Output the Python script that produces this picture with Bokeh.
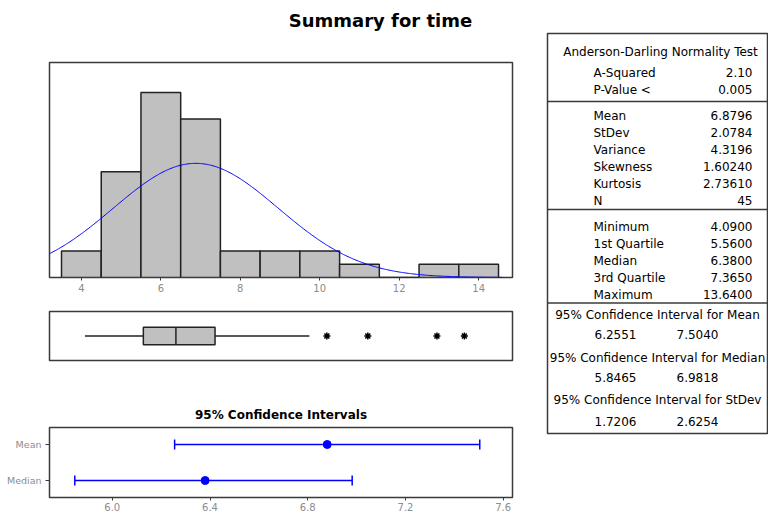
import numpy as np
from bokeh.plotting import figure
from bokeh.layouts import column, row
from bokeh.models import Range1d, FixedTicker, Whisker, TeeHead, ColumnDataSource, PrintfTickFormatter
from bokeh.core.properties import value
from bokeh.embed import file_html
from bokeh.resources import INLINE

# ---------------- data ----------------
title_text = "Summary for time"
bin_centers = [4, 5, 6, 7, 8, 9, 10, 11, 12, 13, 14]
bin_counts = [2, 8, 14, 12, 2, 2, 2, 1, 0, 1, 1]
bin_width = 1.0
hist_ticks = [4, 6, 8, 10, 12, 14]

n_obs = 45
mean = 6.8796
stdev = 2.0784
variance = 4.3196
skewness = 1.60240
kurtosis = 2.73610
a_squared = 2.10
p_value = 0.005
minimum = 4.0900
q1 = 5.5600
median = 6.3800
q3 = 7.3650
maximum = 13.6400
whisker_high = 9.74
outliers = [10.18, 11.21, 12.95, 13.64]

ci_mean = [6.2551, 7.5040]
ci_median = [5.8465, 6.9818]
ci_stdev = [1.7206, 2.6254]
ci_labels = ["Mean", "Median"]
ci_ticks = [6.0, 6.4, 6.8, 7.2, 7.6]

ad_header = "Anderson-Darling Normality Test"
ad_labels = ["A-Squared", "P-Value <"]
ad_values = [f"{a_squared:.2f}", f"{p_value:.3f}"]
desc_labels = ["Mean", "StDev", "Variance", "Skewness", "Kurtosis", "N"]
desc_values = [f"{mean:.4f}", f"{stdev:.4f}", f"{variance:.4f}", f"{skewness:.5f}", f"{kurtosis:.5f}", f"{n_obs}"]
quart_labels = ["Minimum", "1st Quartile", "Median", "3rd Quartile", "Maximum"]
quart_values = [f"{minimum:.4f}", f"{q1:.4f}", f"{median:.4f}", f"{q3:.4f}", f"{maximum:.4f}"]
ci_headers = ["95% Confidence Interval for Mean", "95% Confidence Interval for Median",
              "95% Confidence Interval for StDev"]
ci_pairs = [ci_mean, ci_median, ci_stdev]

# ---------------- style ----------------
FONT = "DejaVu Sans"
FRAME = "#3a3a3a"
TICKLAB = "#8c8c8c"
GREY = "#c0c0c0"
BLUE = "#0000ff"


def make_fig(width, height, x_range, y_range, borders, x_axis=True, y_axis=False):
    p = figure(width=width, height=height, x_range=x_range, y_range=y_range,
               output_backend="svg", toolbar_location=None,
               x_axis_type="linear" if x_axis else None,
               y_axis_type="linear" if y_axis else None,
               min_border_left=borders[0], min_border_right=borders[1],
               min_border_top=borders[2], min_border_bottom=borders[3])
    p.grid.visible = False
    p.outline_line_color = FRAME
    p.outline_line_width = 1.5
    return p


def style_axis(ax, size="10px"):
    ax.axis_line_color = None
    ax.major_tick_line_color = FRAME
    ax.major_tick_in = 0
    ax.major_tick_out = 3
    ax.minor_tick_line_color = None
    ax.major_label_text_color = TICKLAB
    ax.major_label_text_font = FONT
    ax.major_label_text_font_size = size


# ---------------- title ----------------
pt = figure(width=768, height=32, x_range=Range1d(0, 768), y_range=Range1d(32, 0),
            output_backend="svg", toolbar_location=None, x_axis_type=None, y_axis_type=None,
            min_border_left=0, min_border_right=0, min_border_top=0, min_border_bottom=0)
pt.grid.visible = False
pt.outline_line_color = None
pt.text(x=[380], y=[20], text=[title_text], text_font=value(FONT), text_font_style="bold",
        text_font_size=value("18px"), text_align="center", text_baseline="middle", text_color="black")

# ---------------- histogram ----------------
xr = Range1d(3.198, 14.852)
ph = make_fig(540, 268, xr, Range1d(0, 16.27), (48, 27, 30, 23))
style_axis(ph.xaxis[0])
ph.xaxis[0].ticker = FixedTicker(ticks=hist_ticks)
ph.xaxis[0].major_label_standoff = 3
centers = np.array(bin_centers, dtype=float)
ph.quad(left=centers - bin_width / 2, right=centers + bin_width / 2, bottom=0, top=bin_counts,
        fill_color=GREY, line_color="#222222", line_width=1.5)
xs = np.linspace(3.198, 14.6, 400)
ys = n_obs * bin_width * np.exp(-0.5 * ((xs - mean) / stdev) ** 2) / (stdev * np.sqrt(2 * np.pi))
ph.line(xs, ys, line_color=BLUE, line_width=1)

# ---------------- boxplot ----------------
pb = make_fig(540, 70, xr, Range1d(0, 1), (48, 27, 11, 10), x_axis=False)
half = 0.18
pb.segment(x0=[minimum, q3], x1=[q1, whisker_high], y0=[0.5, 0.5], y1=[0.5, 0.5],
           line_color="#222222", line_width=1.5)
pb.quad(left=[q1], right=[q3], bottom=[0.5 - half], top=[0.5 + half],
        fill_color=GREY, line_color="#222222", line_width=1.5)
pb.segment(x0=[median], x1=[median], y0=[0.5 - half], y1=[0.5 + half], line_color="#222222", line_width=1.5)
pb.scatter(outliers, [0.5] * len(outliers), marker="asterisk", size=7, line_color="black", line_width=1.5)

# ---------------- confidence intervals ----------------
pc = make_fig(540, 145, Range1d(5.743, 7.638), Range1d(-0.472, 1.472), (49, 28, 57, 18), y_axis=True)
style_axis(pc.xaxis[0])
pc.xaxis[0].ticker = FixedTicker(ticks=ci_ticks)
pc.xaxis[0].formatter = PrintfTickFormatter(format="%.1f")
pc.xaxis[0].major_label_standoff = 2
style_axis(pc.yaxis[0], size="9.5px")
pc.yaxis[0].ticker = FixedTicker(ticks=[0, 1])
pc.yaxis[0].major_label_overrides = {1: ci_labels[0], 0: ci_labels[1]}
pc.yaxis[0].major_tick_out = 4
pc.yaxis[0].major_label_standoff = 4
pc.title.text = "95% Confidence Intervals"
pc.title.align = "center"
pc.title.text_font = FONT
pc.title.text_font_size = "12px"
pc.title.text_font_style = "bold"
pc.title.text_color = "black"
pc.title.standoff = 12
src = ColumnDataSource(dict(y=[1, 0], lo=[ci_mean[0], ci_median[0]], hi=[ci_mean[1], ci_median[1]],
                            c=[mean, median]))
wk = Whisker(source=src, base="y", lower="lo", upper="hi", dimension="width",
             line_color=BLUE, line_width=1.5,
             upper_head=TeeHead(size=10, line_color=BLUE, line_width=1.5),
             lower_head=TeeHead(size=10, line_color=BLUE, line_width=1.5))
pc.add_layout(wk)
pc.scatter(x="c", y="y", source=src, size=8, color=BLUE)

# ---------------- stats table ----------------
ps = make_fig(228, 483, Range1d(547, 767), Range1d(433, 33), (7, 1, 1, 82), x_axis=False)
ps.segment(x0=[547] * 3, x1=[767] * 3, y0=[101, 209, 302.5], y1=[101, 209, 302.5],
           line_color=FRAME, line_width=1.5)

TS = value("12px")
LX, VX, STEP = 593, 752, 17


def rows(labels, vals, y0):
    yy = [y0 + i * STEP for i in range(len(labels))]
    ps.text(x=[LX] * len(labels), y=yy, text=labels, text_font=value(FONT), text_font_size=TS,
            text_align="left", text_baseline="middle", text_color="black")
    ps.text(x=[VX] * len(vals), y=yy, text=vals, text_font=value(FONT), text_font_size=TS,
            text_align="right", text_baseline="middle", text_color="black")


ps.text(x=[660], y=[51], text=[ad_header], text_font=value(FONT), text_font_size=TS,
        text_align="center", text_baseline="middle", text_color="black")
rows(ad_labels, ad_values, 72)
rows(desc_labels, desc_values, 115)
rows(quart_labels, quart_values, 226)

hy = [314, 357, 399]
vy = [334, 377, 421]
ps.text(x=[657] * 3, y=hy, text=ci_headers, text_font=value(FONT), text_font_size=TS,
        text_align="center", text_baseline="middle", text_color="black")
ps.text(x=[594] * 3, y=vy, text=[f"{a:.4f}" for a, b in ci_pairs], text_font=value(FONT),
        text_font_size=TS, text_align="left", text_baseline="middle", text_color="black")
ps.text(x=[676] * 3, y=vy, text=[f"{b:.4f}" for a, b in ci_pairs], text_font=value(FONT),
        text_font_size=TS, text_align="left", text_baseline="middle", text_color="black")

layout = column(pt, row(column(ph, pb, pc), ps))
open("out.html", "w").write(file_html(layout, INLINE))
